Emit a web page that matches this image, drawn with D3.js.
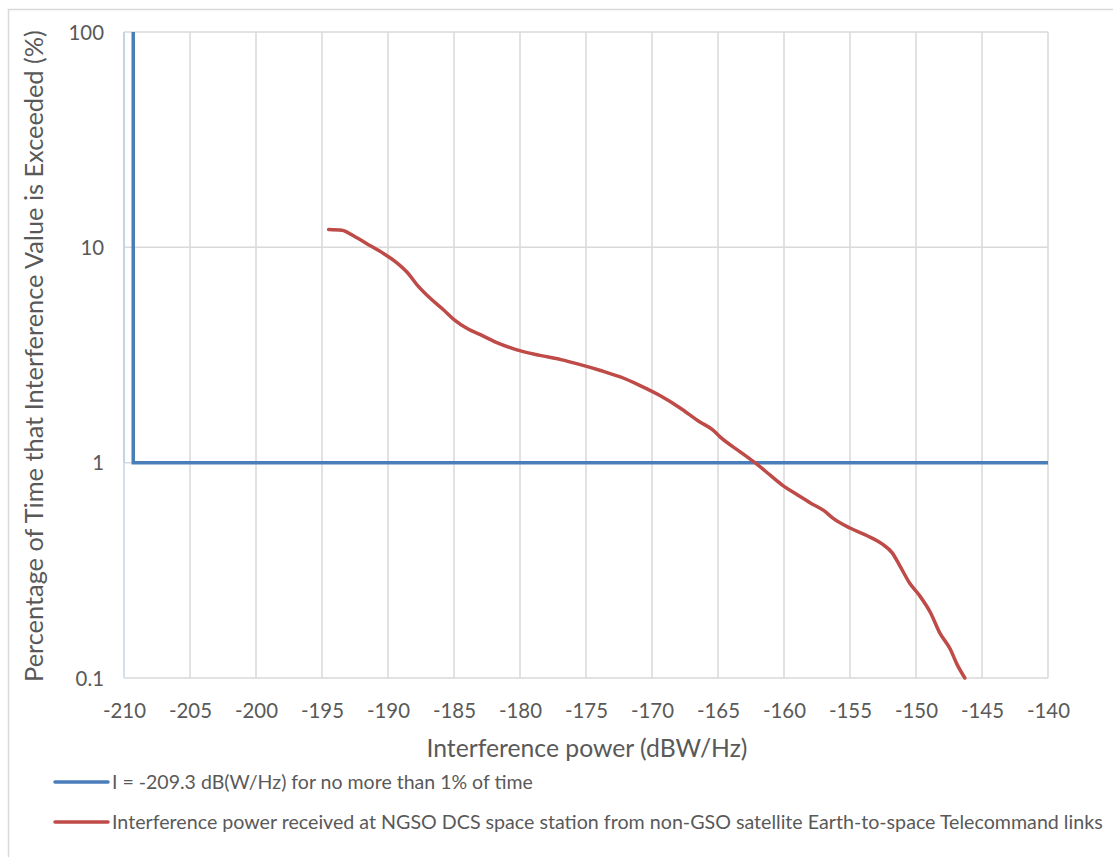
<!DOCTYPE html>
<html>
<head>
<meta charset="utf-8">
<script src="https://cdn.jsdelivr.net/npm/d3@7"></script>
<style>
  body { margin: 0; background: #fff; }
  text { font-family: Lato, "Open Sans", sans-serif; fill: #595959; }
</style>
</head>
<body>
<svg id="chart" width="1113" height="857"></svg>
<script>
// X axis ticks (dBW/Hz) and Y axis ticks (% of time, log scale)
const xTicks = [-210, -205, -200, -195, -190, -185, -180, -175, -170, -165, -160, -155, -150, -145, -140];
const yTicks = [0.1, 1, 10, 100];

// Protection criterion: I = -209.3 dB(W/Hz) for no more than 1% of time
const criterionX = [-209.3, -209.3, -140];
const criterionY = [100, 1, 1];

// Interference power received at the NGSO DCS space station (CCDF)
const interfX = [-194.5, -193.5, -192.5, -191.6, -190.5, -189.3, -188.5, -187.8, -186.8, -185.8, -185.0,
                 -184.0, -183.0, -181.8, -180.3, -178.5, -176.9, -175.5, -173.9, -172.4, -170.9, -169.4,
                 -167.9, -166.4, -165.4, -164.8, -163.3, -162.2, -161.0, -160.0, -159.0, -158.0, -157.0,
                 -156.3, -155.0, -153.7, -152.6, -151.8, -151.2, -150.5, -149.7, -148.9, -148.2, -147.4,
                 -146.9, -146.3];
const interfY = [12.1, 12.0, 11.2, 10.4, 9.5, 8.45, 7.6, 6.7, 5.8, 5.13, 4.62,
                 4.2, 3.93, 3.62, 3.35, 3.15, 3.01, 2.86, 2.68, 2.5, 2.28, 2.05,
                 1.80, 1.55, 1.42, 1.31, 1.12, 1.0, 0.87, 0.776, 0.71, 0.65, 0.60,
                 0.553, 0.497, 0.458, 0.421, 0.381, 0.330, 0.277, 0.240, 0.201, 0.162, 0.136,
                 0.116, 0.100];

const seriesNames = [
  "I = -209.3 dB(W/Hz) for no more than 1% of time",
  "Interference power received at NGSO DCS space station from non-GSO satellite Earth-to-space Telecommand links"
];
const seriesColors = ["#4a7ebb", "#be4b48"];

const svg = d3.select("#chart");
const plot = { left: 124, right: 1048, top: 32, bottom: 678 };

const x = d3.scaleLinear().domain([-210, -140]).range([plot.left, plot.right]);
const y = d3.scaleLog().domain([0.1, 100]).range([plot.bottom, plot.top]);

// Scale a text element's font so that its rendered width equals the given width
function fitWidth(sel, width) {
  sel.each(function () {
    const el = d3.select(this);
    const base = parseFloat(el.style("font-size"));
    const w = this.getComputedTextLength();
    if (w > 0) el.style("font-size", (base * width / w).toFixed(2) + "px");
  });
}

// Outer chart border
svg.append("rect")
  .attr("x", 8.5).attr("y", 9.5).attr("width", 1120).attr("height", 860)
  .attr("fill", "none").attr("stroke", "#d9d9d9").attr("stroke-width", 1.5);

// Gridlines
const grid = svg.append("g");
grid.selectAll(".vg").data(xTicks).join("line")
  .attr("x1", d => x(d)).attr("x2", d => x(d))
  .attr("y1", plot.top).attr("y2", plot.bottom)
  .attr("stroke", "#d9d9d9").attr("stroke-width", 1.5);
grid.selectAll(".hg").data(yTicks).join("line")
  .attr("x1", plot.left).attr("x2", plot.right)
  .attr("y1", d => y(d)).attr("y2", d => y(d))
  .attr("stroke", "#d9d9d9").attr("stroke-width", 1.5);

// Vertical axis line
svg.append("line")
  .attr("x1", plot.left).attr("x2", plot.left)
  .attr("y1", plot.top).attr("y2", plot.bottom)
  .attr("stroke", "#d3deee").attr("stroke-width", 2);
svg.append("line")
  .attr("x1", plot.left).attr("x2", plot.left)
  .attr("y1", plot.top).attr("y2", y(1))
  .attr("stroke", "#c3d4ea").attr("stroke-width", 2);

// Axes (labels only)
const xAxis = d3.axisBottom(x).tickValues(xTicks).tickSize(0).tickPadding(0).tickFormat(d => String(d));
const gx = svg.append("g").attr("transform", `translate(0,${plot.bottom})`).call(xAxis);
gx.select(".domain").remove();
gx.selectAll("text").attr("y", 40).attr("dy", null).style("font-size", "20px").attr("fill", "#595959");
fitWidth(gx.selectAll("text").filter(d => d === -210), 43);
const tickSize = gx.selectAll("text").filter(d => d === -210).style("font-size");
gx.selectAll("text").style("font-size", tickSize);

const yAxis = d3.axisLeft(y).tickValues(yTicks).tickSize(0).tickPadding(0).tickFormat(d => String(d));
const gy = svg.append("g").attr("transform", `translate(${plot.left - 20},0)`).call(yAxis);
gy.select(".domain").remove();
gy.selectAll("text").style("font-size", tickSize).attr("fill", "#595959").attr("dy", "0.35em");

// Axis titles
const xTitle = svg.append("text")
  .attr("x", 587).attr("y", 757)
  .attr("text-anchor", "middle").style("font-size", "22px")
  .text("Interference power (dBW/Hz)");
fitWidth(xTitle, 321);
const yTitle = svg.append("text")
  .attr("transform", `translate(43,356) rotate(-90)`)
  .attr("text-anchor", "middle").style("font-size", "22px")
  .text("Percentage of Time that Interference Value is Exceeded (%)");
fitWidth(yTitle, 652);

// Series
const line = d3.line().x(d => x(d[0])).y(d => y(d[1]));
const criterion = d3.zip(criterionX, criterionY);
const interf = d3.zip(interfX, interfY);

svg.append("path").datum(criterion)
  .attr("d", line).attr("fill", "none")
  .attr("stroke", seriesColors[0]).attr("stroke-width", 3.5)
  .attr("stroke-linejoin", "miter");

svg.append("path").datum(interf)
  .attr("d", line.curve(d3.curveMonotoneX)).attr("fill", "none")
  .attr("stroke", seriesColors[1]).attr("stroke-width", 3.5)
  .attr("stroke-linejoin", "round").attr("stroke-linecap", "round");

// Legend
const legend = svg.append("g");
const legendWidths = [421, 991];
seriesNames.forEach((name, i) => {
  const ly = 782 + i * 40;
  legend.append("line")
    .attr("x1", 55).attr("x2", 108).attr("y1", ly).attr("y2", ly)
    .attr("stroke", seriesColors[i]).attr("stroke-width", 3.5).attr("stroke-linecap", "round");
  const t = legend.append("text")
    .attr("x", 112).attr("y", ly).attr("dy", "0.35em")
    .style("font-size", "18px")
    .text(name);
  fitWidth(t, legendWidths[i]);
});
</script>
</body>
</html>
